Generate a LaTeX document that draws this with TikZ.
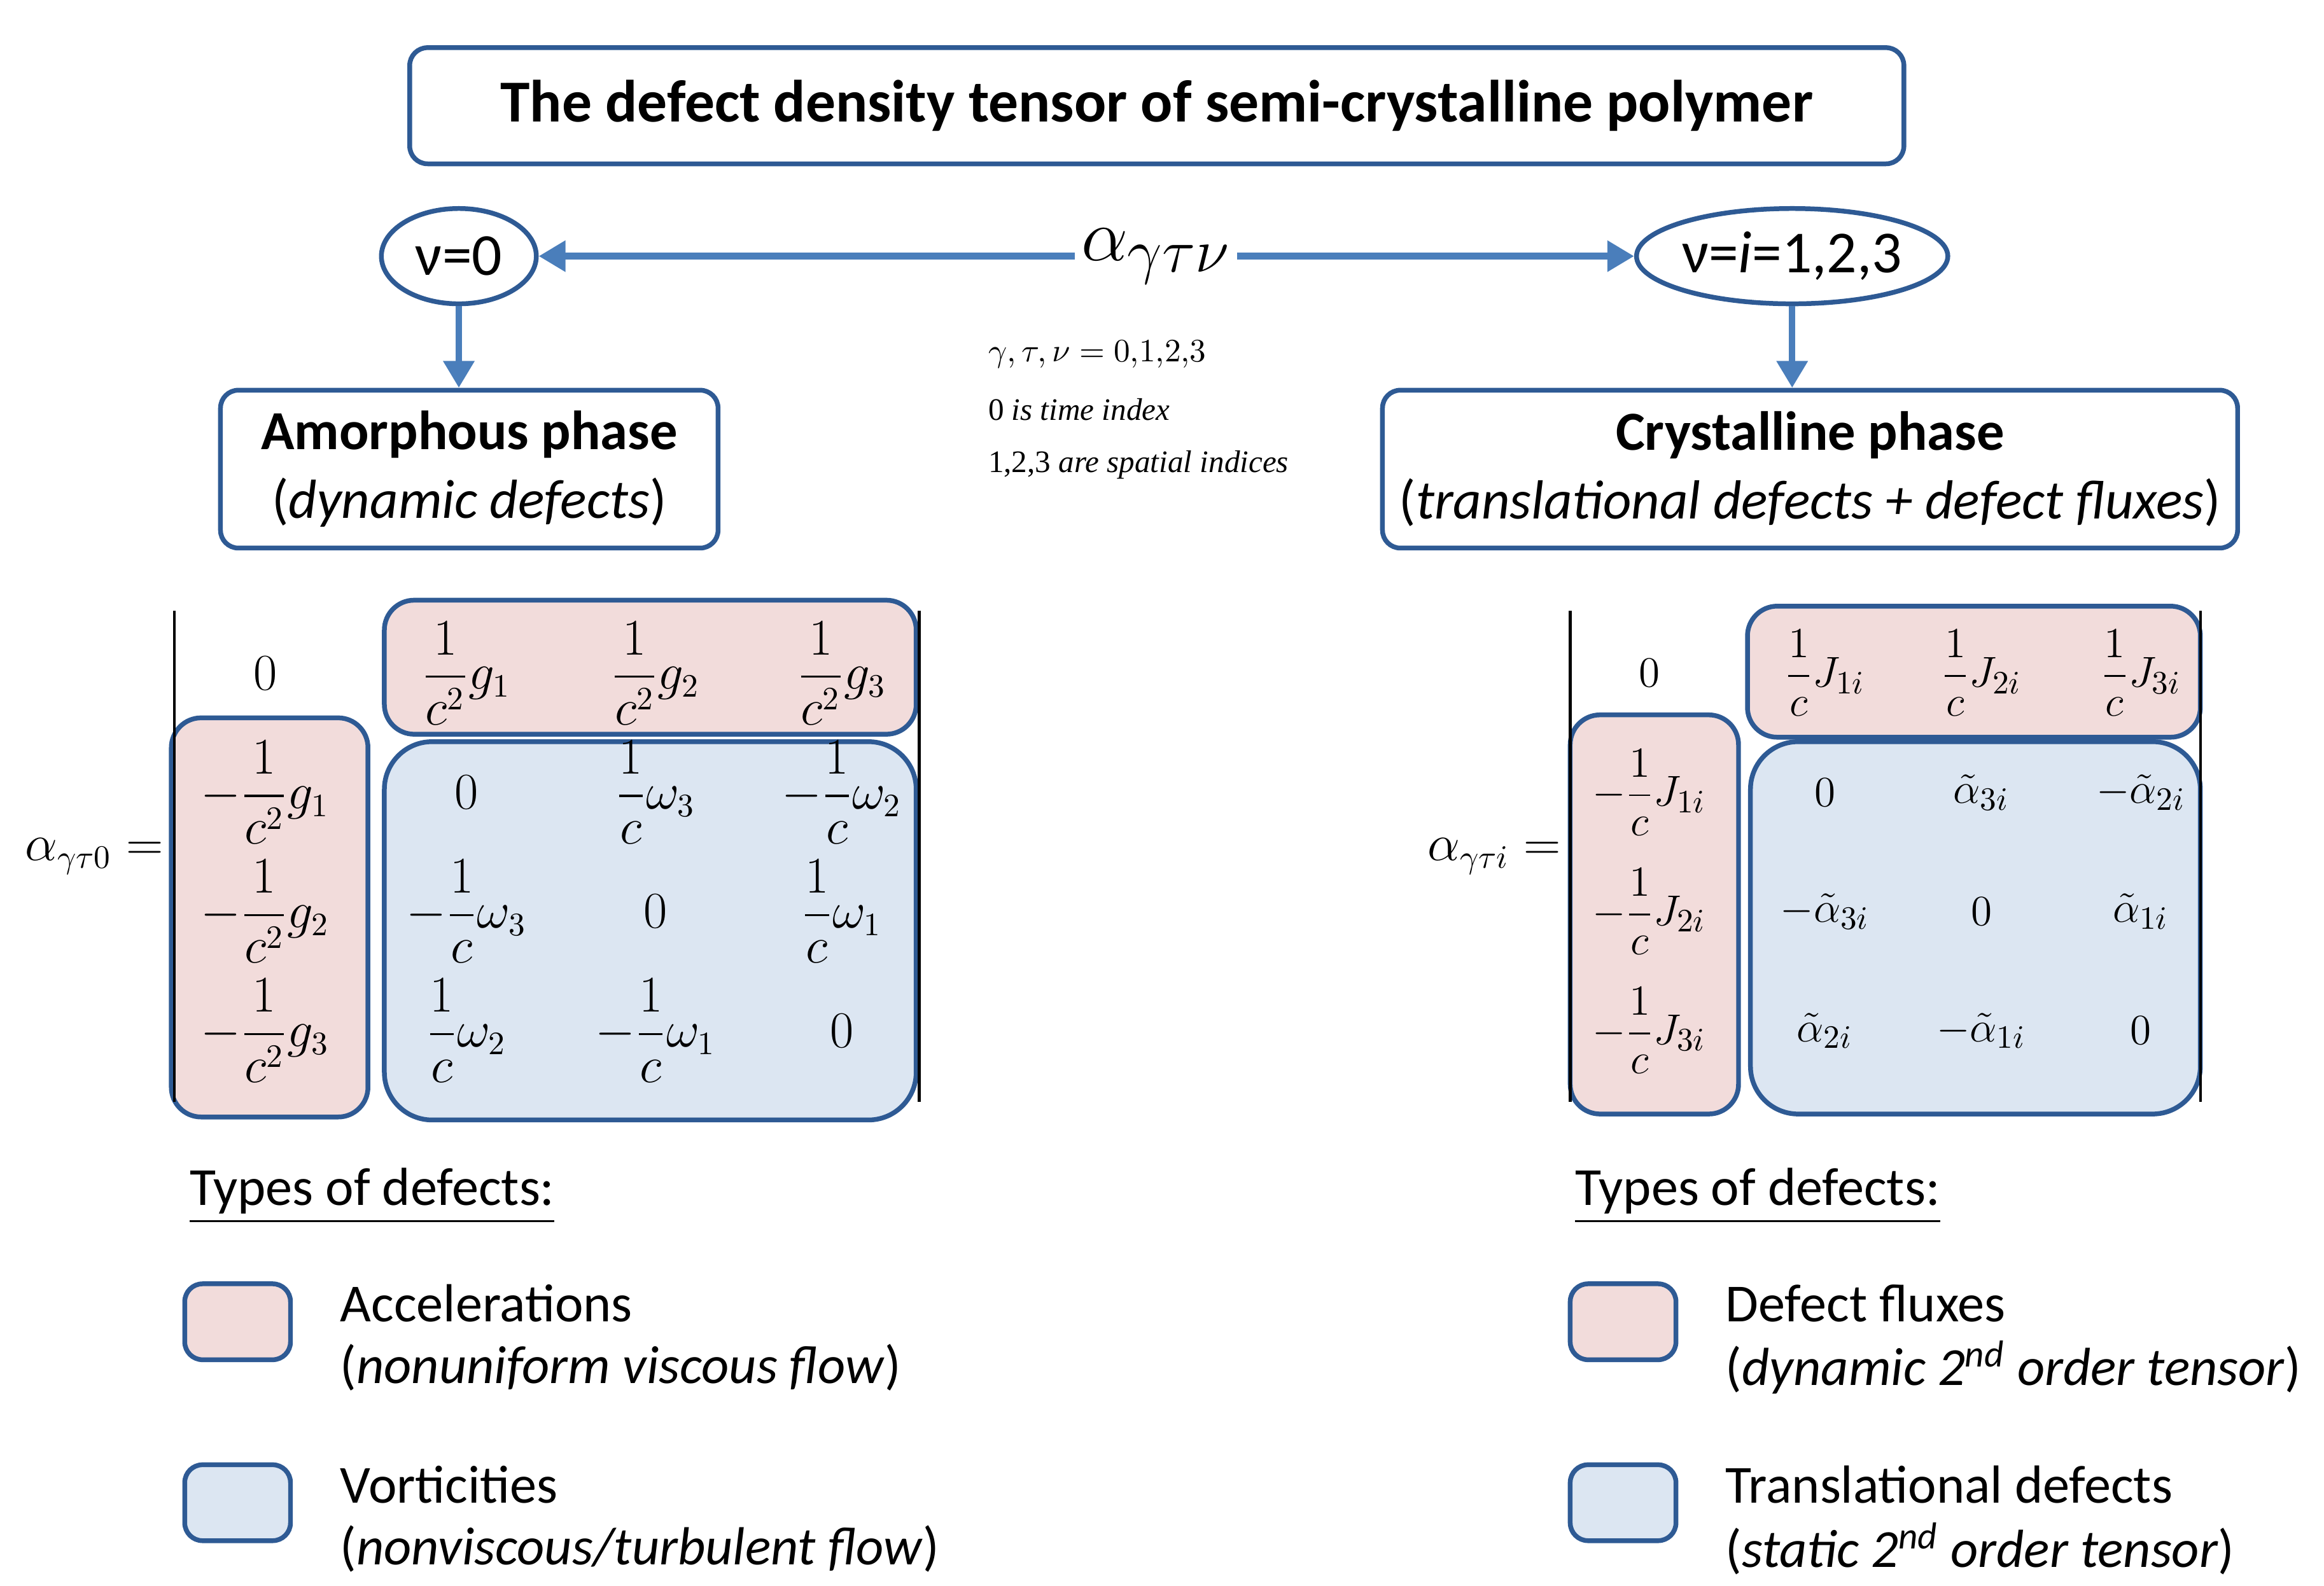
\documentclass[tikz,border=0pt]{standalone}
\usepackage{fontspec}
\usepackage{amsmath}
\setmainfont{Carlito}
\newfontfamily\tms{Liberation Serif}
\usetikzlibrary{shapes.geometric,arrows.meta}
\definecolor{bord}{HTML}{2E5A94}
\definecolor{arr}{HTML}{4A7EBB}
\definecolor{pinkf}{HTML}{F2DCDB}
\definecolor{bluef}{HTML}{DCE6F2}
\tikzset{
 box/.style={draw=bord,line width=1.6pt,rounded corners=6pt,align=center},
 pbox/.style={draw=bord,line width=1.6pt,rounded corners=10pt,fill=pinkf},
 bbox/.style={draw=bord,line width=1.6pt,rounded corners=16pt,fill=bluef},
 ell/.style={draw=bord,line width=1.6pt,ellipse,inner sep=0pt,font=\fontsize{20}{22}\selectfont},
 ar/.style={draw=arr,line width=2.2pt,-{Triangle[length=9pt,width=10pt]}},
 ent/.style={font=\fontsize{16}{19}\selectfont,inner sep=0pt},
 rent/.style={font=\fontsize{15}{18}\selectfont,inner sep=0pt},
 bar/.style={line width=0.9pt,black},
 leg/.style={anchor=west,font=\fontsize{18}{21}\selectfont,inner sep=0pt},
 idx/.style={anchor=west,inner sep=0pt,font=\tms\fontsize{10.5}{12}\selectfont},
}
\begin{document}
\begin{tikzpicture}[x=0.5pt,y=-0.5pt]
\useasboundingbox (0,0) rectangle (1560,1064.5);
% title
\node[box,minimum width=501.5pt,minimum height=39pt,font=\fontsize{20}{22}\selectfont\bfseries] (title) at (776.5,71) {The defect density tensor of semi-crystalline polymer};
% ellipses and alpha
\node[ell,minimum width=52pt,minimum height=32pt] (e0) at (308,172) {ν=0};
\node[ell,minimum width=90pt,minimum height=32pt] (ei) at (1203,172) {ν=\textit{i}=1,2,3};
\node[font=\fontsize{28}{30}\selectfont,inner sep=2pt] (alpha) at (776,172) {$\alpha_{\gamma\tau\nu}$};
\draw[ar] (alpha.west) -- (e0.east);
\draw[ar] (alpha.east) -- (ei.west);
\node[idx] (i1) at (663,238) {$\gamma,\tau,\nu = 0{,}1{,}2{,}3$};
\node[idx] (i2) at (663,275) {0 \textit{is time index}};
\node[idx] (i3) at (663,312) {1,2,3 \textit{are spatial indices}};
% phase boxes
\node[box,minimum width=167pt,minimum height=53pt,font=\fontsize{18.5}{23}\selectfont] (am) at (315,315) {\textbf{Amorphous phase}\\(\textit{dynamic defects})};
\node[box,minimum width=287pt,minimum height=53pt,font=\fontsize{18.5}{23}\selectfont] (cr) at (1215,315) {\textbf{Crystalline phase}\\(\textit{translational defects + defect fluxes})};
\draw[ar] (e0.south) -- (e0.south |- am.north);
\draw[ar] (ei.south) -- (ei.south |- cr.north);
% left matrix
\node[pbox,minimum width=178.5pt,minimum height=45pt] (lt) at (436.5,448) {};
\node[pbox,minimum width=66pt,minimum height=134pt] (ll) at (181,616) {};
\node[bbox,minimum width=178.5pt,minimum height=127pt] (lb) at (436.5,625) {};
\coordinate (la1) at (117,410); \coordinate (la2) at (117,740);
\coordinate (lb1) at (617,410); \coordinate (lb2) at (617,740);
\draw[bar] (la1) -- (la2); \draw[bar] (lb1) -- (lb2);
\node[ent,anchor=east] (lhs) at (110,575) {$\alpha_{\gamma\tau0} =$};
\node[ent] (l00) at (178,452) {$0$};
\node[ent] (l01) at (313,452) {$\dfrac{1}{c^2}g_1$};
\node[ent] (l02) at (440,452) {$\dfrac{1}{c^2}g_2$};
\node[ent] (l03) at (565,452) {$\dfrac{1}{c^2}g_3$};
\node[ent] (l10) at (178,532) {$-\dfrac{1}{c^2}g_1$};
\node[ent] (l11) at (313,532) {$0$};
\node[ent] (l12) at (440,532) {$\dfrac{1}{c}\omega_3$};
\node[ent] (l13) at (565,532) {$-\dfrac{1}{c}\omega_2$};
\node[ent] (l20) at (178,612) {$-\dfrac{1}{c^2}g_2$};
\node[ent] (l21) at (313,612) {$-\dfrac{1}{c}\omega_3$};
\node[ent] (l22) at (440,612) {$0$};
\node[ent] (l23) at (565,612) {$\dfrac{1}{c}\omega_1$};
\node[ent] (l30) at (178,692) {$-\dfrac{1}{c^2}g_3$};
\node[ent] (l31) at (313,692) {$\dfrac{1}{c}\omega_2$};
\node[ent] (l32) at (440,692) {$-\dfrac{1}{c}\omega_1$};
\node[ent] (l33) at (565,692) {$0$};
% right matrix
\node[pbox,minimum width=152pt,minimum height=44pt] (rt) at (1325,451) {};
\node[pbox,minimum width=56.5pt,minimum height=134pt] (rl) at (1110.5,614) {};
\node[bbox,minimum width=151pt,minimum height=125pt] (rb) at (1326,623) {};
\coordinate (ra1) at (1054,410); \coordinate (ra2) at (1054,740);
\coordinate (rb1) at (1477,410); \coordinate (rb2) at (1477,740);
\draw[bar] (ra1) -- (ra2); \draw[bar] (rb1) -- (rb2);
\node[ent,anchor=east] (rhs) at (1048,575) {$\alpha_{\gamma\tau i} =$};
\node[rent] (r00) at (1107,452) {$0$};
\node[rent] (r01) at (1225,452) {$\dfrac{1}{c}J_{1i}$};
\node[rent] (r02) at (1330,452) {$\dfrac{1}{c}J_{2i}$};
\node[rent] (r03) at (1437,452) {$\dfrac{1}{c}J_{3i}$};
\node[rent] (r10) at (1107,532) {$-\dfrac{1}{c}J_{1i}$};
\node[rent] (r11) at (1225,532) {$0$};
\node[rent] (r12) at (1330,532) {$\tilde\alpha_{3i}$};
\node[rent] (r13) at (1437,532) {$-\tilde\alpha_{2i}$};
\node[rent] (r20) at (1107,612) {$-\dfrac{1}{c}J_{2i}$};
\node[rent] (r21) at (1225,612) {$-\tilde\alpha_{3i}$};
\node[rent] (r22) at (1330,612) {$0$};
\node[rent] (r23) at (1437,612) {$\tilde\alpha_{1i}$};
\node[rent] (r30) at (1107,692) {$-\dfrac{1}{c}J_{3i}$};
\node[rent] (r31) at (1225,692) {$\tilde\alpha_{2i}$};
\node[rent] (r32) at (1330,692) {$-\tilde\alpha_{1i}$};
\node[rent] (r33) at (1437,692) {$0$};
% legends
\node[leg] (tl) at (127,803) {\underline{Types of defects:}};
\node[pbox,rounded corners=6pt,minimum width=35.5pt,minimum height=25.5pt] (sq1) at (159.5,887.5) {};
\node[pbox,rounded corners=6pt,fill=bluef,minimum width=35.5pt,minimum height=25.5pt] (sq2) at (159.5,1009) {};
\node[leg] (a1) at (228,875) {Accelerations};
\node[leg] (a2) at (228,918) {(\textit{nonuniform viscous flow})};
\node[leg] (a3) at (228,997) {Vorticities};
\node[leg] (a4) at (228,1040) {(\textit{nonviscous/turbulent flow})};
\node[leg] (tr) at (1057,803) {\underline{Types of defects:}};
\node[pbox,rounded corners=6pt,minimum width=35.5pt,minimum height=25.5pt] (sq3) at (1089.5,887.5) {};
\node[pbox,rounded corners=6pt,fill=bluef,minimum width=35.5pt,minimum height=25.5pt] (sq4) at (1089.5,1009) {};
\node[leg] (b1) at (1158,875) {Defect fluxes};
\node[leg] (b2) at (1158,918) {(\textit{dynamic 2\textsuperscript{nd} order tensor})};
\node[leg] (b3) at (1158,997) {Translational defects};
\node[leg] (b4) at (1158,1040) {(\textit{static 2\textsuperscript{nd} order tensor})};
\end{tikzpicture}
\end{document}
